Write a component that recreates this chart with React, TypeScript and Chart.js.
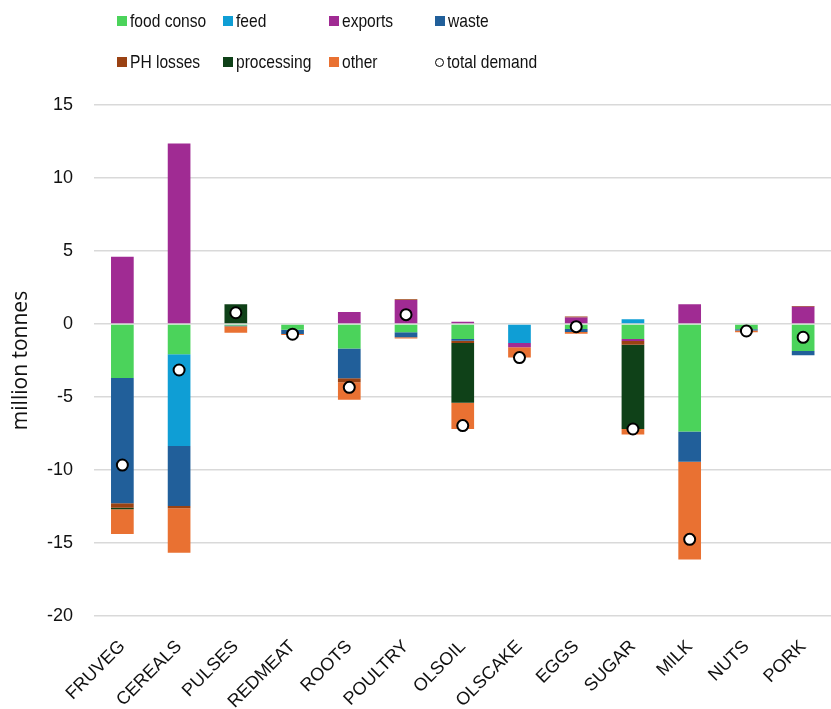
import React, { useEffect, useRef } from 'react';
import { Chart, registerables } from 'chart.js';

Chart.register(...registerables);

// Product groups on the x axis
const categories = [
  'FRUVEG', 'CEREALS', 'PULSES', 'REDMEAT', 'ROOTS', 'POULTRY', 'OLSOIL',
  'OLSCAKE', 'EGGS', 'SUGAR', 'MILK', 'NUTS', 'PORK',
];

// Change in each demand component (million tonnes)
const foodConso = [-3.7, -2.08, -0.1, -0.4, -1.67, -0.57, -1.03, 0, -0.34, -1.03, -7.37, -0.36, -1.85];
const feed = [0, -6.28, 0, 0, 0, 0, 0, -1.3, 0, 0.33, 0, 0, 0];
const exportsChg = [4.6, 12.37, 0, 0, 0.82, 1.64, 0.15, -0.3, 0.45, -0.13, 1.35, 0, 1.19];
const waste = [-8.58, -4.1, -0.05, -0.28, -2.05, -0.34, -0.11, 0, -0.21, 0, -2.06, -0.09, -0.29];
const phLosses = [-0.3, -0.16, 0, 0, -0.27, 0.06, -0.16, 0, 0.06, -0.26, 0, 0, 0.05];
const processing = [-0.1, 0, 1.35, 0, 0, 0, -4.09, 0, 0, -5.78, 0, 0, 0];
const other = [-1.7, -3.05, -0.45, -0.08, -1.2, -0.09, -1.8, -0.7, -0.11, -0.37, -6.7, -0.12, 0];

// Net change in total demand
const totalDemand = [-9.66, -3.15, 0.77, -0.7, -4.34, 0.64, -6.96, -2.3, -0.18, -7.19, -14.75, -0.48, -0.91];

const seriesLabels = ['food conso', 'feed', 'exports', 'waste', 'PH losses', 'processing', 'other'];
const seriesValues = [foodConso, feed, exportsChg, waste, phLosses, processing, other];
const seriesColors = ['#4BD35B', '#0F9ED5', '#A02B93', '#215F9A', '#9A4213', '#0F4118', '#E97132'];

const TOTAL_LABEL = 'total demand';

// Legend grid: 4 columns x 2 rows
const legendCols = [117, 223, 329, 435];
const legendRows = [21, 62];

export default function App() {
  const canvasRef = useRef<HTMLCanvasElement | null>(null);

  useEffect(() => {
    const canvas = canvasRef.current;
    if (!canvas) return;

    const barSets = seriesLabels.map((label, i) => ({
      type: 'bar' as const,
      label,
      data: seriesValues[i],
      backgroundColor: seriesColors[i],
      borderWidth: 0,
      stack: 'demand',
      barPercentage: 0.4,
      categoryPercentage: 1,
      order: 2,
    }));

    const chart = new Chart(canvas, {
      type: 'bar',
      data: {
        labels: categories,
        datasets: [
          ...barSets,
          {
            type: 'line' as const,
            label: TOTAL_LABEL,
            data: totalDemand,
            showLine: false,
            pointRadius: 5.5,
            pointBorderWidth: 2,
            pointBackgroundColor: '#ffffff',
            pointBorderColor: '#000000',
            order: 0,
          } as any,
        ],
      },
      options: {
        responsive: false,
        animation: false,
        layout: { padding: { top: 105, right: 0, bottom: 0, left: 0 } },
        plugins: {
          legend: { display: false },
          tooltip: { enabled: false },
        },
        scales: {
          x: {
            stacked: true,
            grid: { display: false },
            border: { display: false },
            ticks: {
              minRotation: 45,
              maxRotation: 45,
              autoSkip: false,
              color: '#111111',
              padding: 12,
              font: { family: "'Liberation Sans', Arial, sans-serif", size: 18 },
            },
            afterFit: (scale: any) => {
              scale.height = 93;
            },
          },
          y: {
            stacked: true,
            min: -20,
            max: 15,
            ticks: {
              stepSize: 5,
              padding: 21,
              color: '#111111',
              font: { family: "'Liberation Sans', Arial, sans-serif", size: 18 },
            },
            grid: { color: '#D9D9D9', lineWidth: 1.5, drawTicks: false },
            border: { display: false },
            title: {
              display: true,
              text: 'million tonnes',
              color: '#111111',
              font: { family: "'Open Sans', sans-serif", size: 21 },
              padding: { top: 8, bottom: 0 },
            },
            afterFit: (scale: any) => {
              scale.width = 94;
            },
          },
        },
      },
    });

    return () => chart.destroy();
  }, []);

  const legendItems = [...seriesLabels, TOTAL_LABEL];

  return (
    <div
      style={{
        position: 'fixed',
        left: 0,
        top: 0,
        width: 831,
        height: 709,
        overflow: 'hidden',
        background: '#ffffff',
      }}
    >
      <canvas
        ref={canvasRef}
        width={839}
        height={709}
        style={{ position: 'absolute', left: 0, top: 0, width: 839, height: 709 }}
      />
      {legendItems.map((label, i) => {
        const col = i % 4;
        const row = Math.floor(i / 4);
        const isTotal = label === TOTAL_LABEL;
        return (
          <div
            key={label}
            style={{
              position: 'absolute',
              left: legendCols[col],
              top: legendRows[row] - 12,
              height: 24,
              display: 'flex',
              alignItems: 'center',
              whiteSpace: 'nowrap',
            }}
          >
            {isTotal ? (
              <span
                style={{
                  width: 9,
                  height: 9,
                  borderRadius: '50%',
                  border: '1.5px solid #000',
                  background: '#fff',
                  boxSizing: 'border-box',
                  display: 'inline-block',
                }}
              />
            ) : (
              <span
                style={{
                  width: 10,
                  height: 10,
                  background: seriesColors[i],
                  display: 'inline-block',
                }}
              />
            )}
            <span
              style={{
                marginLeft: 3,
                fontFamily: "'Liberation Sans', Arial, sans-serif",
                fontSize: 19,
                color: '#111111',
                display: 'inline-block',
                transform: 'scaleX(0.82)',
                transformOrigin: 'left center',
              }}
            >
              {label}
            </span>
          </div>
        );
      })}
    </div>
  );
}
